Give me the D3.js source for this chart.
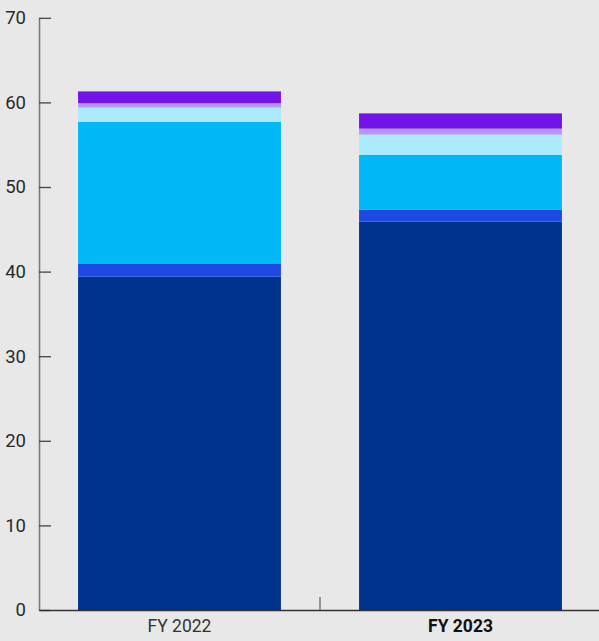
<!DOCTYPE html>
<html>
<head>
<meta charset="utf-8">
<script src="https://cdn.jsdelivr.net/npm/d3@7"></script>
<style>
  html, body { margin: 0; padding: 0; background: #e8e8e8; }
  svg { display: block; font-family: Roboto, "Liberation Sans", Arial, sans-serif; }
</style>
</head>
<body>
<svg id="chart" width="599" height="641"></svg>
<script>
// Fiscal years on the category axis
const years = ["FY 2022", "FY 2023"];
// Stack segments, bottom to top
const segments = ["s1", "s2", "s3", "s4", "s5", "s6"];
const segmentColors = ["#00338D", "#1E49E2", "#00B8F5", "#ACEAFF", "#B497FF", "#7213EA"];
// Segment values per year (same order as segments)
const fy2022 = [39.4, 1.5, 16.8, 1.7, 0.5, 1.4];
const fy2023 = [45.9, 1.4, 6.5, 2.4, 0.7, 1.8];
// Value axis ticks
const yTicks = [0, 10, 20, 30, 40, 50, 60, 70];

const rows = years.map((yr, i) => {
  const vals = i === 0 ? fy2022 : fy2023;
  const row = { year: yr };
  segments.forEach((s, j) => row[s] = vals[j]);
  return row;
});

const svg = d3.select("#chart");
const plotLeft = 39, plotRight = 601, plotTop = 17.8, plotBottom = 610;

const x = d3.scaleBand().domain(years).range([plotLeft, plotRight])
  .paddingInner(0.278).paddingOuter(0.139);
const y = d3.scaleLinear().domain([0, 70]).range([plotBottom, plotTop]);
const color = d3.scaleOrdinal().domain(segments).range(segmentColors);

const stacked = d3.stack().keys(segments)(rows);

svg.append("g").selectAll("g").data(stacked).join("g")
  .attr("fill", d => color(d.key))
  .selectAll("rect").data(d => d).join("rect")
  .attr("x", d => x(d.data.year))
  .attr("width", x.bandwidth())
  .attr("y", d => y(d[1]))
  .attr("height", d => y(d[0]) - y(d[1]));

// Value axis
const yAxis = svg.append("g").attr("transform", `translate(${plotLeft},0)`)
  .call(d3.axisLeft(y).tickValues(yTicks).tickSizeInner(-12).tickSizeOuter(0).tickPadding(13));
yAxis.select(".domain").attr("stroke", "#7a7a7a").attr("stroke-width", 1.6);
yAxis.selectAll(".tick line").attr("stroke", "#444").attr("stroke-width", 1.3);
yAxis.selectAll(".tick text").attr("fill", "#2a2a2a").style("font-size", "18.5px")
  .style("font-family", "Roboto, 'Liberation Sans', Arial, sans-serif");

// Category axis
const xAxis = svg.append("g").attr("transform", `translate(0,${plotBottom})`)
  .call(d3.axisBottom(x).tickSize(0).tickPadding(10));
xAxis.select(".domain").attr("stroke", "#333").attr("stroke-width", 1.5);
xAxis.selectAll(".tick text")
  .attr("fill", (d, i) => i === 1 ? "#111" : "#333")
  .style("font-weight", (d, i) => i === 1 ? "bold" : "normal")
  .style("font-size", "17.5px")
  .style("font-family", "Roboto, 'Liberation Sans', Arial, sans-serif");

// Divider tick between the two years
svg.append("g").selectAll("line").data(years.slice(1)).join("line")
  .attr("x1", d => x(d) - x.step() * x.paddingInner() / 2)
  .attr("x2", d => x(d) - x.step() * x.paddingInner() / 2)
  .attr("y1", plotBottom).attr("y2", plotBottom - 13)
  .attr("stroke", "#777").attr("stroke-width", 1.5);
</script>
</body>
</html>
